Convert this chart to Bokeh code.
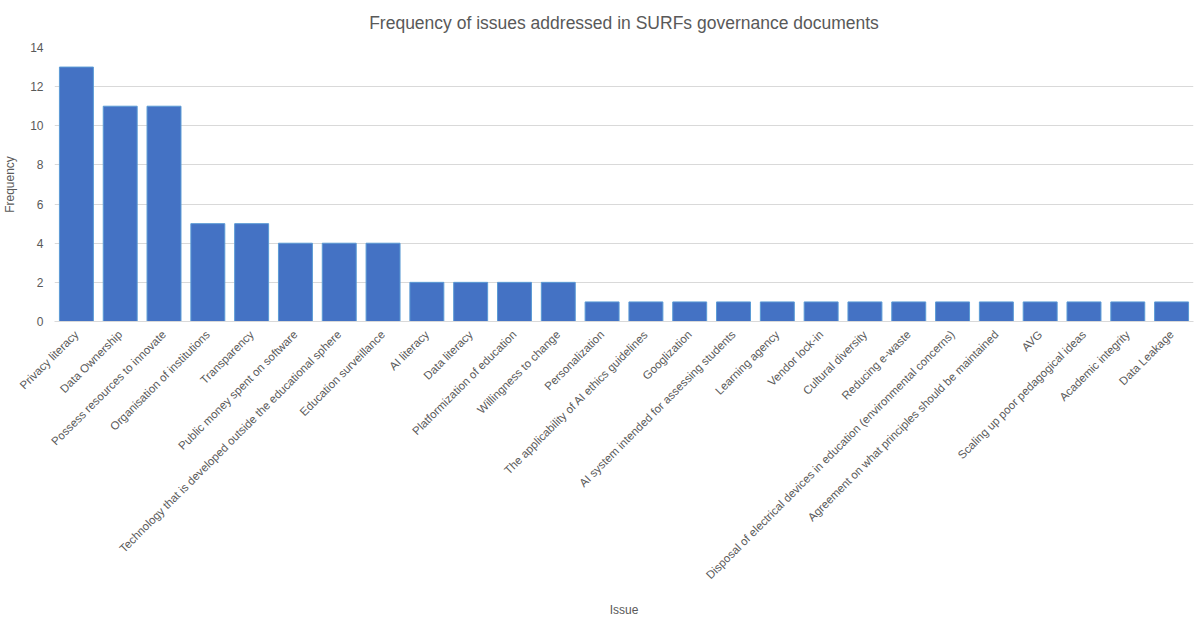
import math
from bokeh.plotting import figure
from bokeh.models import ColumnDataSource, Range1d, FactorRange
from bokeh.embed import file_html
from bokeh.resources import INLINE

issues = [
    "Privacy literacy", "Data Ownership", "Possess resources to innovate",
    "Organisation of institutions", "Transparency", "Public money spent on software",
    "Technology that is developed outside the educational sphere", "Education surveillance",
    "AI literacy", "Data literacy", "Platformization of education", "Willingness to change",
    "Personalization", "The applicability of AI ethics guidelines", "Googlization",
    "AI system intended for assessing students", "Learning agency", "Vendor lock-in",
    "Cultural diversity", "Reducing e-waste",
    "Disposal of electrical devices in education (environmental concerns)",
    "Agreement on what principles should be maintained", "AVG",
    "Scaling up poor pedagogical ideas", "Academic integrity", "Data Leakage",
]
frequency = [13, 11, 11, 5, 5, 4, 4, 4, 2, 2, 2, 2, 1, 1, 1, 1, 1, 1, 1, 1, 1, 1, 1, 1, 1, 1]
y_ticks = [0, 2, 4, 6, 8, 10, 12, 14]

FONT = "Liberation Sans"
GRAY = "#595959"

src = ColumnDataSource(dict(issue=issues, freq=frequency))

p = figure(width=1195, height=619, x_range=FactorRange(*issues, range_padding=0),
           y_range=Range1d(0, 14), output_backend="svg", toolbar_location=None,
           title="Frequency of issues addressed in SURFs governance documents")
p.vbar(x="issue", top="freq", width=0.775, source=src,
       fill_color="#4472C4", line_color="#5B9BD5", line_width=1)

p.title.align = "center"
p.title.vertical_align = "top"
p.title.text_font = FONT
p.title.text_font_size = "17.5px"
p.title.text_font_style = "normal"
p.title.text_color = GRAY
p.title.offset = 0
p.title.standoff = 25

p.outline_line_color = None
p.background_fill_color = "white"
p.border_fill_color = "white"
p.xgrid.grid_line_color = None
p.ygrid.grid_line_color = "#D9D9D9"
p.ygrid.ticker = y_ticks

p.yaxis.ticker = y_ticks
p.yaxis.axis_line_color = None
p.yaxis.major_tick_line_color = None
p.yaxis.minor_tick_line_color = None
p.yaxis.major_label_text_font = FONT
p.yaxis.major_label_text_font_size = "12px"
p.yaxis.major_label_text_color = GRAY
p.yaxis.axis_label = "Frequency"
p.yaxis.axis_label_text_font = FONT
p.yaxis.axis_label_text_font_size = "12px"
p.yaxis.axis_label_text_font_style = "normal"
p.yaxis.axis_label_text_color = GRAY
p.yaxis.axis_label_standoff = 10

p.xaxis.axis_line_color = "#D9D9D9"
p.xaxis.major_tick_line_color = None
p.xaxis.minor_tick_line_color = None
p.xaxis.major_label_orientation = math.pi / 4
p.xaxis.major_label_text_font = FONT
p.xaxis.major_label_text_font_size = "11.5px"
p.xaxis.major_label_text_color = GRAY
p.xaxis.axis_label = "Issue"
p.xaxis.axis_label_text_font = FONT
p.xaxis.axis_label_text_font_size = "12px"
p.xaxis.axis_label_text_font_style = "normal"
p.xaxis.axis_label_text_color = GRAY
p.xaxis.axis_label_standoff = 14

p.min_border_left = 20
p.min_border_right = 2
p.min_border_top = 14
p.min_border_bottom = 0

open("out.html", "w").write(file_html(p, INLINE))
